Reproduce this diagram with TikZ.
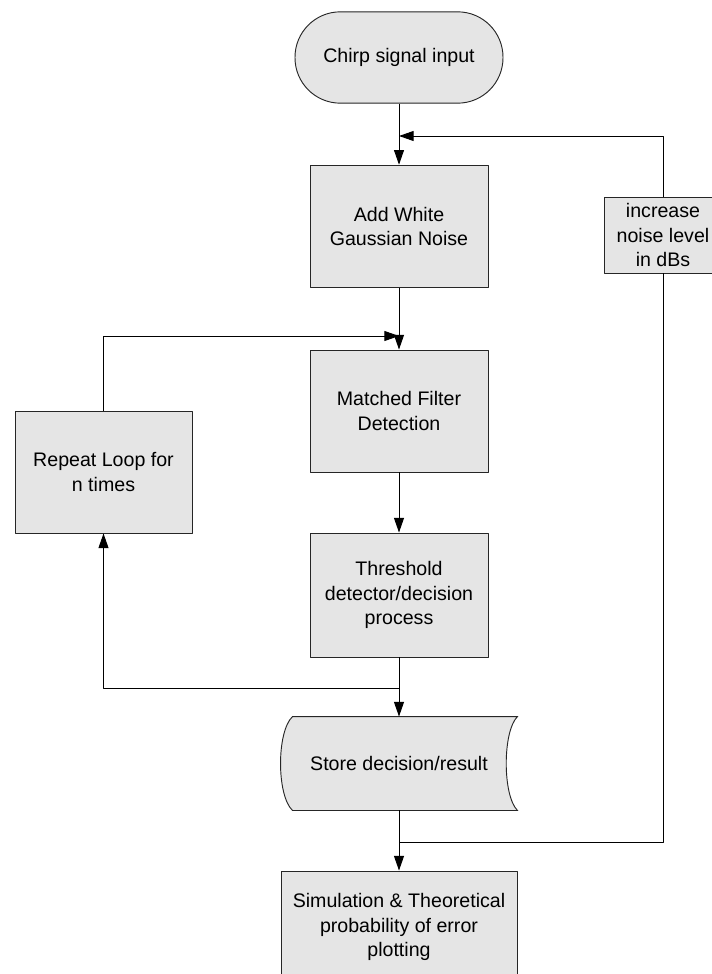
\documentclass[tikz,border=0pt]{standalone}
\usepackage{fontspec}
\setmainfont{Liberation Sans}
\usetikzlibrary{arrows.meta,calc,backgrounds}
\tikzset{
	shade/.style={draw=black!85, fill=gray!20, line width=0.7pt},
	box/.style={shade, align=center, inner sep=1pt, minimum width=133.5pt, minimum height=92pt},
	term/.style={box, rounded corners=34pt, minimum width=156pt, minimum height=68.5pt},
}
\begin{document}
\begin{tikzpicture}[x=0.75pt, y=-0.75pt, >={Triangle[length=11pt,width=7.5pt]}, font=\fontsize{14.7}{18.4}\selectfont, line width=0.7pt, line join=round]
			\def\xm{399} \def\xl{103.5} \def\xr{663} % columns
			\useasboundingbox (0,0) rectangle (712,974);
			\node[term] (A) at (\xm,57.5) {Chirp signal input};
			\node[box] (B) at (\xm,226.5) {Add White\\Gaussian Noise};
			\node[box, minimum height=91.5pt] (C) at (\xm,411) {Matched Filter\\Detection};
			\node[box, minimum height=93pt] (D) at (\xm,595) {Threshold\\detector/decision\\process};
			\node[box, minimum height=91.5pt, minimum width=132.75pt] (R) at (\xl,472) {Repeat Loop for\\n times};
			\node[box, minimum width=88.5pt, minimum height=57pt] (N) at (\xr,235) {increase\\noise level\\in dBs};
			\node[box, minimum width=177pt, minimum height=84pt] (G) at (\xm,927) {Simulation \& Theoretical\\probability of error\\plotting};
			% stored data
			\node[minimum width=177pt, minimum height=69.75pt] (F) at (\xm,763.5) {Store decision/result};
			\coordinate (F1) at ($(F.north west)+(12,0)$);
			\coordinate (F2) at ($(F.south west)+(12,0)$);
			\begin{scope}[on background layer]
				\draw[shade] (F1) -- (F.north east) .. controls +(-15,15) and +(-15,-15) .. (F.south east)
					-- (F2) .. controls +(-16,-15) and +(-16,15) .. (F1) -- cycle;
			\end{scope}
			\coordinate (J1) at (\xm,688); \coordinate (J2) at (\xm,336);
			\coordinate (J3) at (\xm,842); \coordinate (J4) at (\xm,136);
			\draw[->] (A)--(B);
			\draw[->] (B)--(C);
			\draw[->] (C)--(D);
			\draw[->] (D)--(F);
			\draw[->] (F)--(G);
			\draw[->] (J1) -| (R);%loop
			\draw[->] (R) |- (J2);
			\draw (J3) -| (N);%noise
			\draw[->] (N) |- (J4);
	\end{tikzpicture}
\end{document}
